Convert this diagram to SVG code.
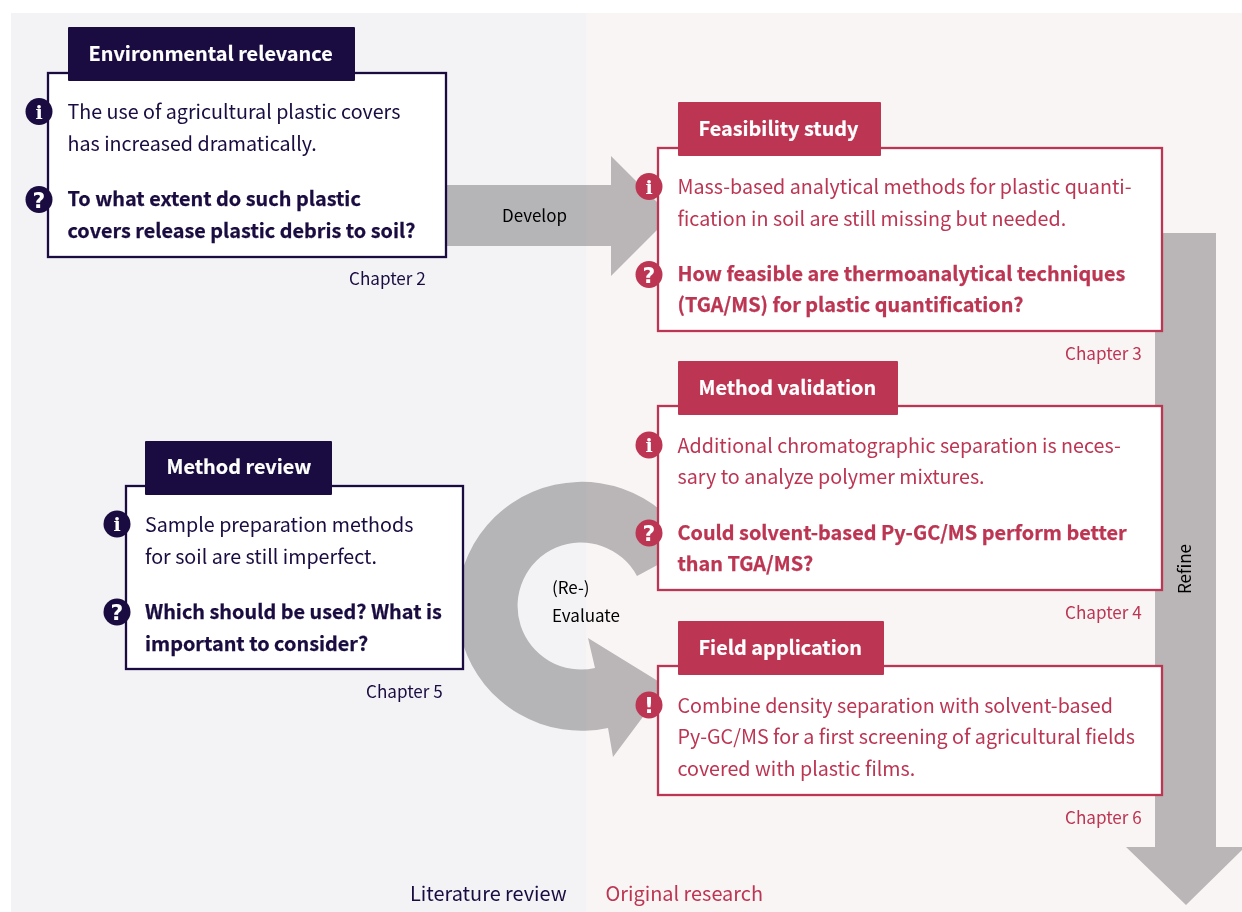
<svg xmlns="http://www.w3.org/2000/svg" width="1242" height="912" viewBox="0 0 1242 912">
<style>
text{font-family:"Noto Sans CJK JP","Noto Sans",sans-serif}
.box{fill:#fff;stroke-width:2.3}
.hd{rx:1px}
.navy .box{stroke:#1a0c40}.navy .hd{fill:#1a0c40}.navy .ic{fill:#1a0c40}.navy .t,.navy .c{fill:#1a0c40}
.red .box{stroke:#bc3552}.red .hd{fill:#bc3552}.red .ic{fill:#bc3552}.red .t,.red .c{fill:#bc3552}
.t{font-size:19.7px}
.b{font-size:19.85px;font-weight:700;stroke:currentColor;stroke-width:0}
.navy .b{stroke:#1a0c40;stroke-width:.25}
.red .b{stroke:#bc3552;stroke-width:.25}
.h{font-size:19.85px;font-weight:700;fill:#fff;stroke:#fff;stroke-width:.2}
.c{font-size:17.1px}
.g{font-size:19px;font-weight:700;fill:#fff;text-anchor:middle;font-family:"DejaVu Serif",serif}
.q{font-family:"DejaVu Sans",sans-serif;font-size:22px}
.l{font-size:17px;fill:#000}
.arrow{fill:#bebebf;mix-blend-mode:multiply}
</style>
<rect x="0" y="0" width="1242" height="912" fill="#fff"/>
<g id="background">
<rect x="11" y="13" width="575" height="899" fill="#f3f3f6"/>
<rect x="586" y="13" width="656" height="899" fill="#faf5f5"/>
</g>
<g id="connectors">
<path class="arrow" d="M447 185H611V156L671 216L611 276V246H447Z"/>
<path class="arrow" d="M1155 233H1216V847H1245L1186 905L1126 847H1155Z"/>
<path class="arrow" d="M691 547A124.500 124.500 0 1 0 608 728L613 757L666 686L588 638L595 668A63.500 63.500 0 1 1 637 576Z"/>
<text class="l" x="534.500" y="222" text-anchor="middle">Develop</text>
<text class="l" transform="translate(1191 569) rotate(-90)" text-anchor="middle">Refine</text>
<text class="l" x="552" y="594">(Re-)</text>
<text class="l" x="552" y="622">Evaluate</text>
</g>
<g id="environmental-relevance" class="navy">
<rect class="box" x="48" y="73" width="398" height="184"/>
<rect class="hd" x="68" y="27" width="287" height="54"/>
<text class="h" x="88.500" y="61">Environmental relevance</text>
<circle class="ic" cx="39" cy="111.500" r="13.500"/><text class="g" x="39" y="118.500">i</text>
<circle class="ic" cx="39" cy="199.500" r="13.500"/><text class="g q" x="39" y="207.500">?</text>
<text class="t" x="67.500" y="119">The use of agricultural plastic covers</text>
<text class="t" x="67.500" y="151">has increased dramatically.</text>
<text class="t b" x="67.500" y="206">To what extent do such plastic</text>
<text class="t b" x="67.500" y="238">covers release plastic debris to soil?</text>
<text class="c" x="349" y="285">Chapter 2</text>
</g>
<g id="feasibility-study" class="red">
<rect class="box" x="658" y="148" width="504" height="183"/>
<rect class="hd" x="678" y="102" width="203" height="54"/>
<text class="h" x="698.500" y="136">Feasibility study</text>
<circle class="ic" cx="649" cy="186.500" r="13.500"/><text class="g" x="649" y="193.500">i</text>
<circle class="ic" cx="649" cy="274.500" r="13.500"/><text class="g q" x="649" y="282.500">?</text>
<text class="t" x="677.500" y="194">Mass-based analytical methods for plastic quanti-</text>
<text class="t" x="677.500" y="226">fication in soil are still missing but needed.</text>
<text class="t b" x="677.500" y="281">How feasible are thermoanalytical techniques</text>
<text class="t b" x="677.500" y="312">(TGA/MS) for plastic quantification?</text>
<text class="c" x="1065" y="360">Chapter 3</text>
</g>
<g id="method-validation" class="red">
<rect class="box" x="658" y="406" width="504" height="184"/>
<rect class="hd" x="678" y="361" width="220" height="54"/>
<text class="h" x="698.500" y="395">Method validation</text>
<circle class="ic" cx="649" cy="445" r="13.500"/><text class="g" x="649" y="452">i</text>
<circle class="ic" cx="649" cy="533" r="13.500"/><text class="g q" x="649" y="541">?</text>
<text class="t" x="677.500" y="453">Additional chromatographic separation is neces-</text>
<text class="t" x="677.500" y="484">sary to analyze polymer mixtures.</text>
<text class="t b" x="677.500" y="540">Could solvent-based Py-GC/MS perform better</text>
<text class="t b" x="677.500" y="571">than TGA/MS?</text>
<text class="c" x="1065" y="619">Chapter 4</text>
</g>
<g id="field-application" class="red">
<rect class="box" x="658" y="666" width="504" height="129"/>
<rect class="hd" x="678" y="621" width="206" height="54"/>
<text class="h" x="698.500" y="655">Field application</text>
<circle class="ic" cx="649" cy="705" r="13.500"/><text class="g q" x="649" y="713">!</text>
<text class="t" x="677.500" y="713">Combine density separation with solvent-based</text>
<text class="t" x="677.500" y="744">Py-GC/MS for a first screening of agricultural fields</text>
<text class="t" x="677.500" y="776">covered with plastic films.</text>
<text class="c" x="1065" y="824">Chapter 6</text>
</g>
<g id="method-review" class="navy">
<rect class="box" x="126" y="486" width="337" height="183"/>
<rect class="hd" x="145" y="441" width="187" height="54"/>
<text class="h" x="166.500" y="474">Method review</text>
<circle class="ic" cx="117" cy="524" r="13.500"/><text class="g" x="117" y="531">i</text>
<circle class="ic" cx="117" cy="612" r="13.500"/><text class="g q" x="117" y="620">?</text>
<text class="t" x="145" y="532">Sample preparation methods</text>
<text class="t" x="145" y="564">for soil are still imperfect.</text>
<text class="t b" x="145" y="619">Which should be used? What is</text>
<text class="t b" x="145" y="651">important to consider?</text>
<text class="c" x="366" y="698">Chapter 5</text>
</g>
<g id="section-labels">
<text x="410" y="901" font-size="19.900" fill="#1a0c40">Literature review</text>
<text x="605.500" y="901" font-size="19.900" fill="#bc3552">Original research</text>
</g>
</svg>
